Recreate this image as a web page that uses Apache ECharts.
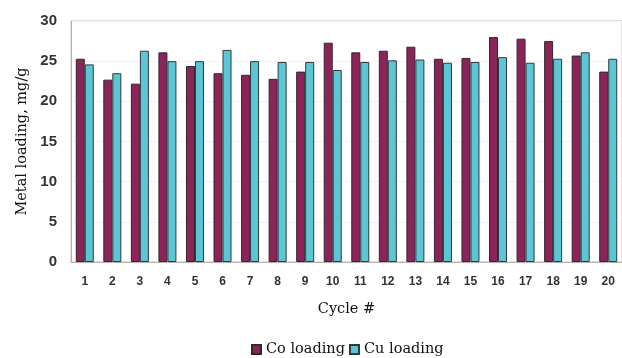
<!DOCTYPE html>
<html>
<head>
<meta charset="utf-8">
<script src="https://cdn.jsdelivr.net/npm/echarts@6/dist/echarts.min.js"></script>
<style>
  html, body { margin: 0; padding: 0; background: #ffffff; }
  #chart { width: 622px; height: 358px; }
</style>
</head>
<body>
<div id="chart"></div>
<script>
// Metal loading per adsorption cycle
const cycles = ['1','2','3','4','5','6','7','8','9','10','11','12','13','14','15','16','17','18','19','20'];
const coLoading = [25.3, 22.7, 22.2, 26.1, 24.4, 23.5, 23.3, 22.8, 23.7, 27.3, 26.1, 26.3, 26.8, 25.3, 25.4, 28.0, 27.8, 27.5, 25.7, 23.7];
const cuLoading = [24.6, 23.5, 26.3, 25.0, 25.0, 26.4, 25.0, 24.9, 24.9, 23.9, 24.9, 25.1, 25.2, 24.8, 24.9, 25.5, 24.8, 25.3, 26.1, 25.3];
const yTicks = [0, 5, 10, 15, 20, 25, 30];

const chart = echarts.init(document.getElementById('chart'), null, { renderer: 'canvas' });

const serif = '"DejaVu Serif", "Liberation Serif", serif';
const sans = '"Liberation Sans", Arial, sans-serif';

chart.setOption({
  animation: false,
  backgroundColor: '#ffffff',
  grid: {
    left: 71, right: -1, top: 21, bottom: 96,
    show: true, borderColor: '#c9c0c0', borderWidth: 1,
    containLabel: false
  },
  legend: {
    bottom: 1,
    padding: 0,
    left: 251,
    itemWidth: 9, itemHeight: 9, itemGap: 4,
    icon: 'rect',
    textStyle: { fontFamily: serif, fontSize: 14.5, color: '#111' },
    data: ['Co loading', 'Cu loading']
  },
  xAxis: {
    type: 'category',
    data: cycles,
    name: 'Cycle #',
    nameLocation: 'middle',
    nameGap: 40,
    nameTextStyle: { fontFamily: serif, fontSize: 14.5, color: '#111' },
    axisLine: { lineStyle: { color: '#b9b0b0' } },
    axisTick: { show: false },
    axisLabel: { fontFamily: sans, fontSize: 12, fontWeight: 'bold', color: '#333', margin: 14 },
    splitLine: { show: false }
  },
  yAxis: {
    type: 'value',
    min: yTicks[0], max: yTicks[yTicks.length - 1], interval: 5,
    name: 'Metal loading, mg/g',
    nameLocation: 'middle',
    nameGap: 41,
    nameTextStyle: { fontFamily: serif, fontSize: 14.5, color: '#111' },
    axisLine: { show: true, lineStyle: { color: '#b9b0b0' } },
    axisTick: { show: false },
    axisLabel: { fontFamily: sans, fontSize: 15, fontWeight: 'bold', color: '#333', margin: 14 },
    splitLine: { show: true, lineStyle: { color: '#f3f1f1', width: 1 } }
  },
  series: [
    {
      name: 'Co loading', type: 'bar', data: coLoading,
      barWidth: 9, barGap: '0%',
      itemStyle: { color: '#8c2459', borderColor: '#2e2a2c', borderWidth: 1 }
    },
    {
      name: 'Cu loading', type: 'bar', data: cuLoading,
      barWidth: 9, barGap: '0%',
      itemStyle: { color: '#5cc6d6', borderColor: '#2e3a3c', borderWidth: 1 }
    }
  ]
});
</script>
</body>
</html>
